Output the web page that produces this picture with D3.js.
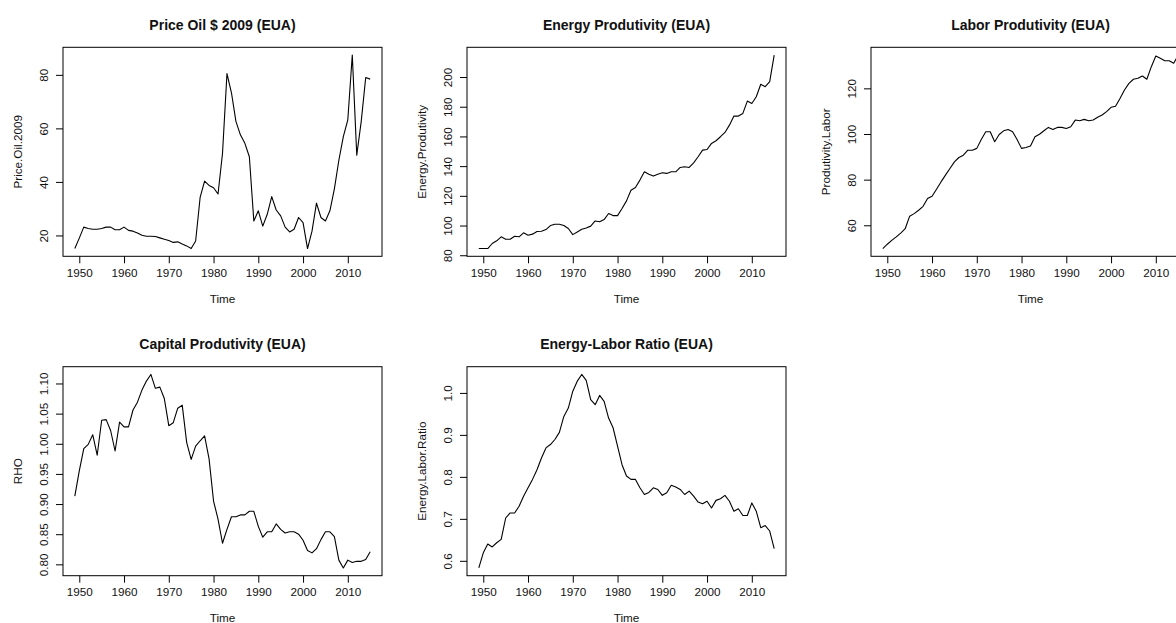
<!DOCTYPE html>
<html>
<head>
<meta charset="utf-8">
<script src="https://cdn.jsdelivr.net/npm/d3@7"></script>
<style>
  body { margin: 0; background: #fff; }
  text { font-family: "Liberation Sans", Arial, sans-serif; fill: #111; }
</style>
</head>
<body>
<div id="chart"></div>
<script>
// years of the annual series
var years = d3.range(1949, 2016);

// Price Oil $ 2009
var priceOil = [15.1, 19.0, 23.1, 22.6, 22.3, 22.3, 22.6, 23.1, 23.1, 22.1,
  22.1, 23.1, 21.9, 21.6, 20.9, 20.1, 19.7, 19.7, 19.6, 19.1,
  18.6, 18.1, 17.4, 17.6, 16.8, 16.1, 15.1, 17.9, 34.2, 40.3,
  38.7, 37.8, 35.5, 50.6, 80.5, 73.3, 62.6, 57.6, 54.4, 49.4,
  25.4, 29.2, 23.5, 27.9, 34.5, 29.5, 27.3, 23.1, 21.3, 22.3,
  26.7, 24.8, 15.1, 21.6, 32.1, 26.7, 25.4, 29.2, 37.4, 48.1,
  56.9, 63.2, 87.4, 50.0, 62.6, 79.0, 78.4];

// Energy Produtivity
var energyProd = [84.5, 84.5, 84.5, 87.9, 89.7, 92.4, 90.8, 90.8, 92.8, 92.4,
  95.1, 93.5, 94.2, 96.0, 96.2, 97.3, 100.0, 100.9, 100.9, 100.0,
  98.0, 93.9, 95.7, 97.5, 98.4, 99.6, 103.1, 102.5, 104.0, 108.1,
  106.7, 106.7, 111.5, 116.6, 123.8, 125.6, 130.6, 136.2, 134.6, 133.3,
  134.6, 135.5, 135.1, 136.2, 136.2, 139.1, 139.6, 139.1, 142.2, 146.3,
  150.8, 151.2, 155.3, 157.1, 159.8, 162.7, 167.6, 173.7, 173.7, 175.5,
  183.8, 182.2, 186.7, 195.1, 193.5, 196.9, 214.8];

// Labor Produtivity
var laborProd = [49.8, 51.7, 53.4, 54.9, 56.6, 58.5, 64.0, 65.1, 66.6, 68.3,
  71.7, 72.7, 75.8, 79.0, 82.0, 84.9, 87.8, 89.7, 90.7, 92.9,
  92.9, 93.7, 97.6, 101.0, 101.0, 96.6, 99.8, 101.4, 102.0, 101.0,
  97.6, 93.7, 94.1, 94.7, 98.8, 99.9, 101.4, 102.9, 102.0, 102.9,
  102.9, 102.4, 103.2, 106.1, 105.8, 106.4, 105.8, 106.1, 107.3, 108.3,
  109.8, 111.7, 112.2, 115.6, 119.3, 122.2, 124.0, 124.4, 125.4, 124.0,
  129.5, 134.2, 133.2, 132.1, 132.1, 131.0, 134.6];

// Capital Produtivity (RHO)
var capitalProd = [0.913, 0.955, 0.992, 0.999, 1.015, 0.981, 1.039, 1.040, 1.022, 0.988,
  1.036, 1.028, 1.028, 1.056, 1.069, 1.089, 1.104, 1.115, 1.092, 1.094,
  1.075, 1.030, 1.035, 1.059, 1.064, 1.002, 0.974, 0.996, 1.005, 1.013,
  0.975, 0.905, 0.875, 0.835, 0.858, 0.879, 0.879, 0.882, 0.882, 0.888,
  0.888, 0.863, 0.845, 0.854, 0.854, 0.867, 0.858, 0.852, 0.854, 0.854,
  0.850, 0.840, 0.823, 0.819, 0.826, 0.841, 0.854, 0.854, 0.846, 0.807,
  0.794, 0.807, 0.803, 0.805, 0.805, 0.808, 0.821];

// Energy-Labor Ratio
var energyLabor = [0.583, 0.619, 0.640, 0.633, 0.643, 0.651, 0.702, 0.714, 0.714, 0.730,
  0.754, 0.774, 0.794, 0.817, 0.845, 0.869, 0.877, 0.889, 0.906, 0.944,
  0.964, 1.004, 1.028, 1.044, 1.030, 0.984, 0.972, 0.994, 0.980, 0.940,
  0.917, 0.873, 0.829, 0.802, 0.794, 0.794, 0.774, 0.758, 0.763, 0.774,
  0.770, 0.756, 0.762, 0.780, 0.776, 0.770, 0.758, 0.766, 0.754, 0.740,
  0.736, 0.742, 0.726, 0.744, 0.748, 0.756, 0.742, 0.718, 0.724, 0.708,
  0.708, 0.738, 0.718, 0.679, 0.684, 0.671, 0.629];

// titles, axis labels and tick values of each panel
var titles = ["Price Oil $ 2009 (EUA)", "Energy Produtivity (EUA)", "Labor Produtivity (EUA)",
  "Capital Produtivity (EUA)", "Energy-Labor Ratio (EUA)"];
var yLabels = ["Price.Oil.2009", "Energy.Produtivity", "Produtivity.Labor", "RHO", "Energy.Labor.Ratio"];
var yTicks = [[20, 40, 60, 80], [80, 100, 120, 140, 160, 180, 200], [60, 80, 100, 120],
  [0.80, 0.85, 0.90, 0.95, 1.00, 1.05, 1.10], [0.6, 0.7, 0.8, 0.9, 1.0]];
var yFormats = ["d", "d", "d", ".2f", ".1f"];
var xTicks = [1950, 1960, 1970, 1980, 1990, 2000, 2010];
var seriesList = [priceOil, energyProd, laborProd, capitalProd, energyLabor];

// page and panel geometry
var svgWidth = 1176;
var svgHeight = 623;
var boxLefts = [63, 467, 871];
var boxTops = [47.3, 366.7];
var boxWidth = 319;
var boxHeight = 209;

var svg = d3.select("#chart")
  .append("svg")
  .attr("width", svgWidth)
  .attr("height", svgHeight);

// R style axis range: data range widened by 4% each side
function rRange(lo, hi) {
  var pad = (hi - lo) * 0.04;
  return [lo - pad, hi + pad];
}

seriesList.forEach(function(values, i) {
  var left = boxLefts[i % 3];
  var top = boxTops[Math.floor(i / 3)];

  var panel = svg.append("g")
    .attr("transform", `translate(${left}, ${top})`);

  var xScale = d3.scaleLinear()
    .domain(rRange(years[0], years[years.length - 1]))
    .range([0, boxWidth]);

  var yScale = d3.scaleLinear()
    .domain(rRange(d3.min(values), d3.max(values)))
    .range([boxHeight, 0]);

  // bottom axis
  var bottomAxis = d3.axisBottom(xScale)
    .tickValues(xTicks)
    .tickFormat(d3.format("d"))
    .tickSizeInner(7)
    .tickSizeOuter(0)
    .tickPadding(5);

  var gx = panel.append("g")
    .attr("transform", `translate(0, ${boxHeight})`)
    .call(bottomAxis);
  gx.select(".domain").remove();
  gx.selectAll("line").attr("stroke", "#000");
  gx.selectAll("text")
    .attr("font-size", 11.7)
    .attr("font-family", "Liberation Sans, Arial, sans-serif")
    .attr("fill", "#111");

  // left axis, labels turned like R
  var leftAxis = d3.axisLeft(yScale)
    .tickValues(yTicks[i])
    .tickFormat(d3.format(yFormats[i]))
    .tickSizeInner(7)
    .tickSizeOuter(0);

  var gy = panel.append("g").call(leftAxis);
  gy.select(".domain").remove();
  gy.selectAll("line").attr("stroke", "#000");
  gy.selectAll("text")
    .attr("x", 0)
    .attr("dy", null)
    .attr("transform", "translate(-20, 0) rotate(-90)")
    .attr("text-anchor", "middle")
    .attr("dominant-baseline", "central")
    .attr("font-size", 11.7)
    .attr("font-family", "Liberation Sans, Arial, sans-serif")
    .attr("fill", "#111");

  // the series line
  var line = d3.line()
    .x((d, k) => xScale(years[k]))
    .y(d => yScale(d));

  panel.append("path")
    .datum(values)
    .attr("fill", "none")
    .attr("stroke", "#000")
    .attr("stroke-width", 1.1)
    .attr("stroke-linejoin", "round")
    .attr("d", line);

  // plot box
  panel.append("rect")
    .attr("x", 0)
    .attr("y", 0)
    .attr("width", boxWidth)
    .attr("height", boxHeight)
    .attr("fill", "none")
    .attr("stroke", "#000")
    .attr("stroke-width", 1);

  // title
  panel.append("text")
    .attr("x", boxWidth / 2)
    .attr("y", 25 - boxTops[0])
    .attr("text-anchor", "middle")
    .attr("dominant-baseline", "central")
    .attr("font-size", 14)
    .attr("font-weight", "bold")
    .text(titles[i]);

  // x label
  panel.append("text")
    .attr("x", boxWidth / 2)
    .attr("y", boxHeight + 42)
    .attr("text-anchor", "middle")
    .attr("dominant-baseline", "central")
    .attr("font-size", 11.7)
    .text("Time");

  // y label
  panel.append("text")
    .attr("transform", `translate(-46, ${boxHeight / 2}) rotate(-90)`)
    .attr("text-anchor", "middle")
    .attr("dominant-baseline", "central")
    .attr("font-size", 11.7)
    .text(yLabels[i]);
});
</script>
</body>
</html>
